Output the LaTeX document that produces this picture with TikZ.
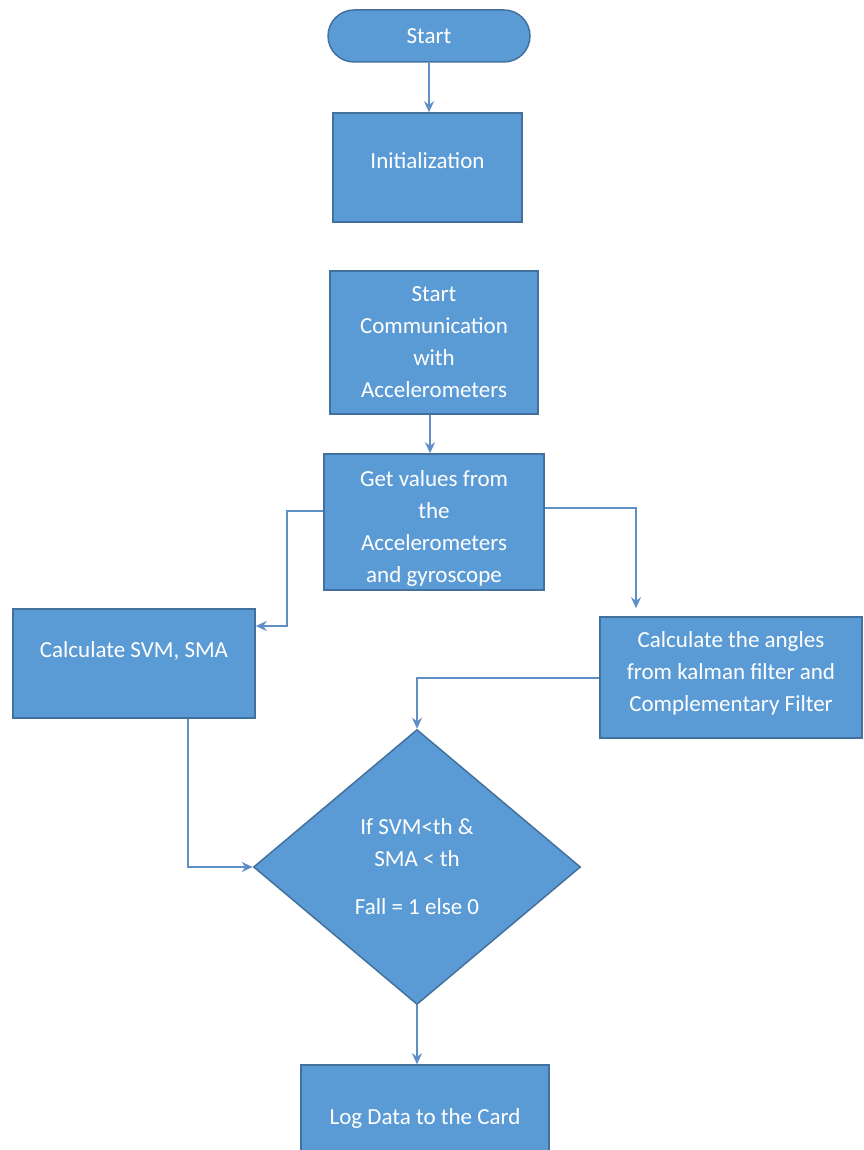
\documentclass[tikz,border=0pt]{standalone}
\usepackage{fontspec}
\setmainfont{Carlito}
\usetikzlibrary{shapes.geometric,arrows.meta,calc}
\definecolor{boxfill}{HTML}{5B9BD5}
\definecolor{boxline}{HTML}{41719C}
\definecolor{connc}{HTML}{5E8FC6}
\begin{document}
\begin{tikzpicture}[x=1pt,y=-1pt,
  box/.style={draw=boxline,fill=boxfill,line width=1.5pt,text=white,align=center,inner sep=0pt,
    font=\fontsize{23}{32}\selectfont},
  conn/.style={draw=connc,line width=2pt,-{Stealth[length=11pt,width=10pt]}},
  txt/.style={text=white,align=center,font=\fontsize{23}{32}\selectfont}]
\useasboundingbox (0,0) rectangle (863,1150);
\node[box,rounded corners=26pt,minimum width=202pt,minimum height=52pt] (start) at (429,36) {Start};
\node[box,minimum width=189pt,minimum height=109pt,label={[txt,yshift=7pt]center:Initialization}] (init) at (427.5,167.5) {};
\node[box,minimum width=208pt,minimum height=143pt] (comm) at (434,342.5) {Start\\Communication\\with\\Accelerometers};
\node[box,minimum width=220pt,minimum height=136pt,label={[txt,yshift=-6pt]center:Get values from\\the\\Accelerometers\\and gyroscope}] (get) at (434,522) {};
\node[box,minimum width=242pt,minimum height=109pt,label={[txt,yshift=13pt]center:Calculate SVM, SMA}] (svm) at (134,663.5) {};
\node[box,minimum width=262pt,minimum height=121pt,label={[txt,yshift=4pt]center:Calculate the angles\\from kalman filter and\\Complementary Filter}] (ang) at (731,677.5) {};
\node[box,diamond,minimum width=327pt,minimum height=275pt] (dia) at (417,867) {If SVM<th \&\\SMA < th\\[16pt]Fall = 1 else 0};
\node[box,minimum width=248pt,minimum height=86pt,label={[txt,yshift=-10pt]center:Log Data to the Card}] (log) at (425,1108) {};
\draw[conn] (start.south) -- (start.south |- init.north);
\draw[conn] ([xshift=-4pt]comm.south) -- ([xshift=-4pt]comm.south |- get.north);
\coordinate (b1) at (287,626);
\draw[conn] ([yshift=11pt]get.west) -| (b1) -- (b1 -| svm.east);
\draw[conn] ([yshift=14pt]get.east) -| ([xshift=-95pt,yshift=8pt]ang.north);
\draw[conn] (ang.west) -| (dia.north);
\draw[conn] ([xshift=54pt]svm.south) |- (dia.west);
\draw[conn] (dia.south) -- (dia.south |- log.north);
\end{tikzpicture}
\end{document}
